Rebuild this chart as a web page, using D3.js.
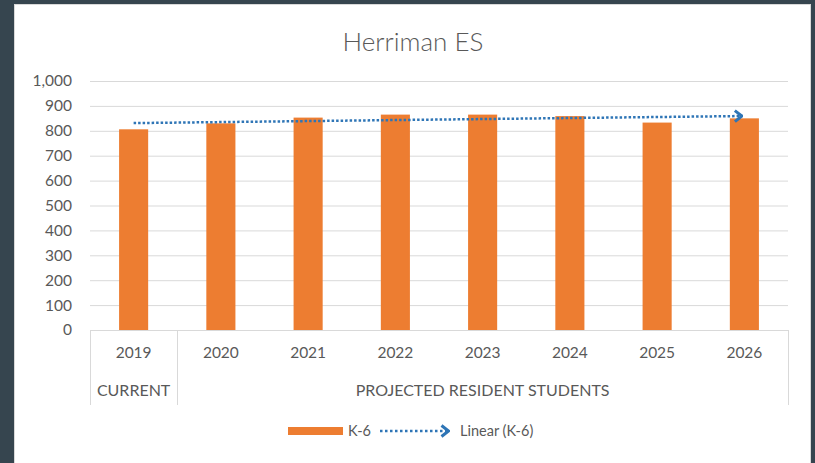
<!DOCTYPE html>
<html>
<head>
<meta charset="utf-8">
<script src="https://cdn.jsdelivr.net/npm/d3@7"></script>
<style>
    html, body { margin: 0; padding: 0; background: #36454f; }
    svg { display: block; font-family: Lato, 'Open Sans', sans-serif; }
</style>
</head>
<body>
<div id="chart"></div>
<script>
// chart data
const years = ['2019', '2020', '2021', '2022', '2023', '2024', '2025', '2026'];
const k6 = [806, 830, 853, 865, 865, 859, 833, 850];
const groupLabels = ['CURRENT', 'PROJECTED RESIDENT STUDENTS'];
const groupSizes = [1, 7];
const yTicks = [0, 100, 200, 300, 400, 500, 600, 700, 800, 900, 1000];
const title = 'Herriman ES';
const seriesName = 'K-6';
const trendName = 'Linear (K-6)';

const W = 815, H = 463;
let margin = { left: 90, right: 27, top: 81, bottom: 133 },
    plotW = W - margin.left - margin.right,
    plotH = H - margin.top - margin.bottom;

const orange = '#ed7d31', blue = '#2e75b6', textCol = '#595959', gridCol = '#d9d9d9';

const svg = d3.select('#chart').append('svg')
    .attr('width', W)
    .attr('height', H);

// white panel
svg.append('rect')
    .attr('x', 14.5).attr('y', 4.5)
    .attr('width', 796).attr('height', H)
    .attr('fill', '#fff')
    .attr('stroke', '#d9d9d9');

svg.append('text')
    .attr('x', 413).attr('y', 51)
    .attr('text-anchor', 'middle')
    .attr('fill', textCol)
    .style('font-size', '26px')
    .style('font-weight', 300)
    .text(title);

const x = d3.scaleBand().domain(years).range([0, plotW]);
const y = d3.scaleLinear().domain([0, 1000]).range([plotH, 0]);

const g = svg.append('g')
    .attr('transform', 'translate(' + margin.left + ',' + margin.top + ')');

// y axis with gridlines
const yAxis = d3.axisLeft(y)
    .tickValues(yTicks)
    .tickSize(-plotW)
    .tickPadding(18)
    .tickFormat(d3.format(','));

g.append('g')
    .attr('class', 'y axis')
    .call(yAxis)
    .call(s => s.select('.domain').remove())
    .call(s => s.selectAll('line').attr('stroke', gridCol))
    .call(s => s.selectAll('text')
        .attr('fill', textCol)
        .style('font-size', '15.5px')
        .style('font-family', 'Lato, sans-serif'));

// bars
const bw = x.bandwidth() / 3;
g.selectAll('.bar')
    .data(k6)
    .enter().append('rect')
    .attr('class', 'bar')
    .attr('x', (d, i) => x(years[i]) + bw)
    .attr('width', bw)
    .attr('y', d => y(d))
    .attr('height', d => plotH - y(d))
    .attr('fill', orange);

// category axis (two levels)
const axisBottom = 75;
g.append('line')
    .attr('x1', 0).attr('x2', plotW)
    .attr('y1', plotH + 0.5).attr('y2', plotH + 0.5)
    .attr('stroke', gridCol);

let start = 0;
const bounds = [0];
groupSizes.forEach(n => { start += n; bounds.push(start); });

g.selectAll('.sep')
    .data(bounds)
    .enter().append('line')
    .attr('class', 'sep')
    .attr('x1', i => Math.round(i < years.length ? x(years[i]) : plotW) + 0.5)
    .attr('x2', i => Math.round(i < years.length ? x(years[i]) : plotW) + 0.5)
    .attr('y1', plotH)
    .attr('y2', plotH + axisBottom)
    .attr('stroke', gridCol);

g.selectAll('.year')
    .data(years)
    .enter().append('text')
    .attr('class', 'year')
    .attr('x', d => x(d) + x.bandwidth() / 2)
    .attr('y', plotH + 23)
    .attr('dy', '0.35em')
    .attr('text-anchor', 'middle')
    .attr('fill', textCol)
    .style('font-size', '15.5px')
    .text(d => d);

g.selectAll('.group')
    .data(groupLabels)
    .enter().append('text')
    .attr('class', 'group')
    .attr('x', (d, i) => {
        const a = x(years[bounds[i]]);
        const b = bounds[i + 1] < years.length ? x(years[bounds[i + 1]]) : plotW;
        return (a + b) / 2;
    })
    .attr('y', plotH + 60)
    .attr('dy', '0.35em')
    .attr('text-anchor', 'middle')
    .attr('fill', textCol)
    .style('font-size', '16px')
    .text(d => d);

// linear trendline (least squares over category index)
const n = k6.length;
const mx = d3.mean(k6, (d, i) => i), my = d3.mean(k6);
const slope = d3.sum(k6, (d, i) => (i - mx) * (d - my)) / d3.sum(k6, (d, i) => (i - mx) * (i - mx));
const icpt = my - slope * mx;
const trend = [0, n - 1].map(i => ({ i: i, v: icpt + slope * i }));
const cx = i => x(years[i]) + x.bandwidth() / 2;

svg.append('defs').append('marker')
    .attr('id', 'chev')
    .attr('viewBox', '0 0 10 14')
    .attr('refX', 9).attr('refY', 7)
    .attr('markerWidth', 10).attr('markerHeight', 14)
    .attr('markerUnits', 'userSpaceOnUse')
    .attr('orient', 'auto')
    .append('path')
    .attr('d', 'M1.5,1.5 L8.5,7 L1.5,12.5')
    .attr('fill', 'none')
    .attr('stroke', blue)
    .attr('stroke-width', 3);

g.append('line')
    .attr('x1', cx(trend[0].i)).attr('y1', y(trend[0].v))
    .attr('x2', cx(trend[1].i) - 2).attr('y2', y(trend[1].v))
    .attr('stroke', blue)
    .attr('stroke-width', 2.5)
    .attr('stroke-dasharray', '2.5 2')
    .attr('marker-end', 'url(#chev)');

// legend
const leg = svg.append('g').attr('transform', 'translate(288,431)');
leg.append('rect')
    .attr('x', 0).attr('y', -4)
    .attr('width', 55).attr('height', 8)
    .attr('fill', orange);
leg.append('text')
    .attr('x', 60).attr('dy', '0.35em')
    .attr('fill', textCol)
    .style('font-size', '14.5px')
    .text(seriesName);
leg.append('line')
    .attr('x1', 92).attr('x2', 161)
    .attr('stroke', blue)
    .attr('stroke-width', 2.5)
    .attr('stroke-dasharray', '2.5 2.5')
    .attr('marker-end', 'url(#chev)');
leg.append('text')
    .attr('x', 172).attr('dy', '0.35em')
    .attr('fill', textCol)
    .style('font-size', '14.5px')
    .text(trendName);
</script>
</body>
</html>
